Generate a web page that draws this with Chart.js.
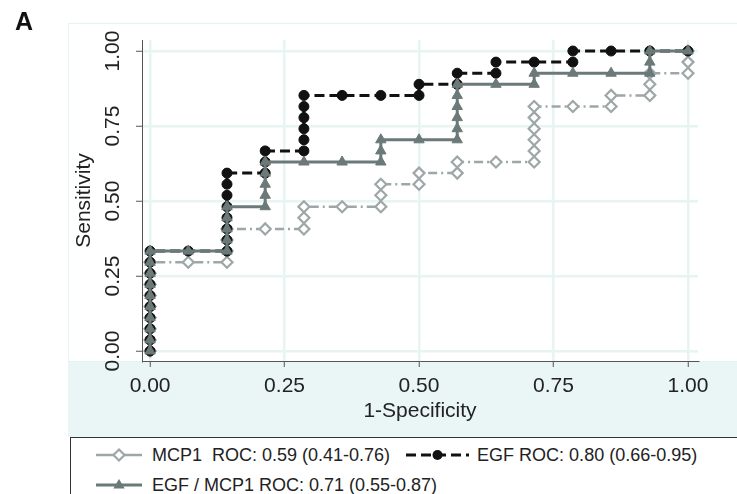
<!DOCTYPE html>
<html>
<head>
<meta charset="utf-8">
<script src="https://cdn.jsdelivr.net/npm/chart.js@4.4.1/dist/chart.umd.min.js"></script>
<style>
  html, body { margin: 0; padding: 0; background: #fff; }
  #wrap { position: relative; width: 737px; height: 494px; overflow: hidden; font-family: "Liberation Sans", Arial, sans-serif; }
  #c { position: absolute; left: 0; top: 0; }
  #panel { position: absolute; left: 15px; top: 9px; font: bold 25px/25px "Liberation Sans", Arial, sans-serif; color: #111; }
  #legend { position: absolute; left: 70px; top: 437px; width: 700px; height: 80px; border: 1px solid #333; background: #fff; box-sizing: border-box; padding-top: 2px; }
  .row { height: 30px; display: flex; align-items: center; white-space: pre; font-size: 18px; color: #222; }
  .item { display: flex; align-items: center; }
  .item svg { display: block; }
</style>
</head>
<body>
<div id="wrap">
  <canvas id="c" width="737" height="494"></canvas>
  <div id="panel">A</div>
  <div id="legend"></div>
</div>
<script>
// ---- data ----
const xTickValues = [0, 0.25, 0.5, 0.75, 1];
const xTickLabels = ['0.00', '0.25', '0.50', '0.75', '1.00'];
const yTickValues = [0, 0.25, 0.5, 0.75, 1];
const yTickLabels = ['0.00', '0.25', '0.50', '0.75', '1.00'];
const xTitle = '1-Specificity';
const yTitle = 'Sensitivity';
const seriesLabels = ['MCP1  ROC: 0.59 (0.41-0.76)', 'EGF ROC: 0.80 (0.66-0.95)', 'EGF / MCP1 ROC: 0.71 (0.55-0.87)'];

const mcp1Fpr = [0, 0, 0, 0, 0, 0, 0, 0, 0, 0.071, 0.143, 0.143, 0.143, 0.143, 0.214, 0.286, 0.286, 0.286, 0.357, 0.429, 0.429, 0.429, 0.5, 0.5, 0.571, 0.571, 0.643, 0.714, 0.714, 0.714, 0.714, 0.714, 0.714, 0.786, 0.857, 0.857, 0.929, 0.929, 0.929, 1, 1, 1];
const mcp1Tpr = [0, 0.037, 0.074, 0.111, 0.148, 0.185, 0.222, 0.259, 0.296, 0.296, 0.296, 0.333, 0.370, 0.407, 0.407, 0.407, 0.444, 0.481, 0.481, 0.481, 0.519, 0.556, 0.556, 0.593, 0.593, 0.630, 0.630, 0.630, 0.667, 0.704, 0.741, 0.778, 0.815, 0.815, 0.815, 0.852, 0.852, 0.889, 0.926, 0.926, 0.963, 1];

const egfFpr = [0, 0, 0, 0, 0, 0, 0, 0, 0, 0, 0.071, 0.143, 0.143, 0.143, 0.143, 0.143, 0.143, 0.143, 0.143, 0.214, 0.214, 0.214, 0.286, 0.286, 0.286, 0.286, 0.286, 0.286, 0.357, 0.429, 0.5, 0.5, 0.571, 0.571, 0.643, 0.643, 0.714, 0.786, 0.786, 0.857, 0.929, 1];
const egfTpr = [0, 0.037, 0.074, 0.111, 0.148, 0.185, 0.222, 0.259, 0.296, 0.333, 0.333, 0.333, 0.370, 0.407, 0.444, 0.481, 0.519, 0.556, 0.593, 0.593, 0.630, 0.667, 0.667, 0.704, 0.741, 0.778, 0.815, 0.852, 0.852, 0.852, 0.852, 0.889, 0.889, 0.926, 0.926, 0.963, 0.963, 0.963, 1, 1, 1, 1];

const ratioFpr = [0, 0, 0, 0, 0, 0, 0, 0, 0, 0, 0.071, 0.143, 0.143, 0.143, 0.143, 0.143, 0.214, 0.214, 0.214, 0.214, 0.214, 0.286, 0.357, 0.429, 0.429, 0.429, 0.5, 0.571, 0.571, 0.571, 0.571, 0.571, 0.571, 0.643, 0.714, 0.714, 0.786, 0.857, 0.929, 0.929, 0.929, 1];
const ratioTpr = [0, 0.037, 0.074, 0.111, 0.148, 0.185, 0.222, 0.259, 0.296, 0.333, 0.333, 0.333, 0.370, 0.407, 0.444, 0.481, 0.481, 0.519, 0.556, 0.593, 0.630, 0.630, 0.630, 0.630, 0.667, 0.704, 0.704, 0.704, 0.741, 0.778, 0.815, 0.852, 0.889, 0.889, 0.889, 0.926, 0.926, 0.926, 0.926, 0.963, 1, 1];

const toPts = (xs, ys) => xs.map((x, i) => ({ x: x, y: ys[i] }));

const FONT = '"Liberation Sans", Arial, sans-serif';
const TXT = '#222';

const bgPlugin = {
  id: 'bg',
  beforeDraw(chart) {
    const ctx = chart.ctx, a = chart.chartArea;
    ctx.save();
    ctx.fillStyle = '#ffffff';
    ctx.fillRect(0, 0, chart.width, chart.height);
    ctx.fillStyle = '#eaf6f5';
    ctx.fillRect(68, a.bottom, chart.width - 68, 437 - a.bottom);
    ctx.strokeStyle = '#e4f2f1';
    ctx.lineWidth = 1;
    ctx.strokeRect(68.5, 23.5, chart.width, a.bottom - 23);
    ctx.restore();
  }
};

const datasets = [
  {
    label: seriesLabels[0],
    data: toPts(mcp1Fpr, mcp1Tpr),
    showLine: true,
    borderColor: '#9ea7a7',
    borderWidth: 2.5,
    borderDash: [9, 4, 2, 4],
    pointStyle: 'rectRot',
    pointRadius: 5.5,
    pointBackgroundColor: '#ffffff',
    pointBorderColor: '#9ea7a7',
    pointBorderWidth: 2.2,
    order: 2
  },
  {
    label: seriesLabels[1],
    data: toPts(egfFpr, egfTpr),
    showLine: true,
    borderColor: '#111111',
    borderWidth: 3,
    borderDash: [10, 5],
    pointStyle: 'circle',
    pointRadius: 5,
    pointBackgroundColor: '#111111',
    pointBorderColor: '#111111',
    pointBorderWidth: 1,
    order: 1
  },
  {
    label: seriesLabels[2],
    data: toPts(ratioFpr, ratioTpr),
    showLine: true,
    borderColor: '#6b7979',
    borderWidth: 3,
    pointStyle: 'triangle',
    pointRadius: 6,
    pointBackgroundColor: '#6b7979',
    pointBorderColor: '#6b7979',
    pointBorderWidth: 1,
    order: 0
  }
];

const chart = new Chart(document.getElementById('c'), {
  type: 'scatter',
  data: { datasets: datasets },
  plugins: [bgPlugin],
  options: {
    responsive: false,
    animation: false,
    devicePixelRatio: 1,
    layout: { padding: { left: 68, top: 40, right: 39, bottom: 57 } },
    plugins: { legend: { display: false }, tooltip: { enabled: false } },
    elements: { line: { tension: 0 } },
    scales: {
      x: {
        type: 'linear',
        min: -0.015,
        max: 1.0186,
        afterBuildTicks: (s) => { s.ticks = xTickValues.map(v => ({ value: v })); },
        afterFit: (s) => { s.height = 76; },
        ticks: {
          callback: (v, i) => xTickLabels[i],
          font: { family: FONT, size: 21 },
          color: TXT,
          padding: 7,
          maxRotation: 0,
          autoSkip: false
        },
        grid: { color: '#e6f4f2', lineWidth: 2.5, tickColor: '#555', tickWidth: 1, tickLength: 6 },
        border: { color: '#555', width: 1 },
        title: { display: true, text: xTitle, font: { family: FONT, size: 21 }, color: TXT, padding: { top: 0, bottom: 13 } }
      },
      y: {
        type: 'linear',
        min: -0.0333,
        max: 1.0367,
        afterBuildTicks: (s) => { s.ticks = yTickValues.map(v => ({ value: v })); },
        afterFit: (s) => { s.width = 74; },
        ticks: {
          callback: (v, i) => yTickLabels[i],
          font: { family: FONT, size: 21 },
          color: TXT,
          padding: 2,
          minRotation: 90,
          maxRotation: 90,
          crossAlign: 'center',
          autoSkip: false
        },
        grid: { color: '#e6f4f2', lineWidth: 2.5, tickColor: '#555', tickWidth: 1, tickLength: 6 },
        border: { color: '#555', width: 1 },
        title: { display: true, text: yTitle, font: { family: FONT, size: 21 }, color: TXT, padding: { top: 4, bottom: 0 } }
      }
    }
  }
});

// ---- HTML legend built from the chart's datasets ----
function symbolSvg(ds, w, solid) {
  const h = 16, mid = h / 2, cx = w / 2;
  const dash = (!solid && ds.borderDash) ? ds.borderDash.join(',') : 'none';
  let marker = '';
  const r = ds.pointRadius;
  if (ds.pointStyle === 'rectRot') {
    marker = `<polygon points="${cx},${mid - r} ${cx + r},${mid} ${cx},${mid + r} ${cx - r},${mid}" fill="${ds.pointBackgroundColor}" stroke="${ds.pointBorderColor}" stroke-width="${ds.pointBorderWidth}"/>`;
  } else if (ds.pointStyle === 'circle') {
    marker = `<circle cx="${cx}" cy="${mid}" r="${r}" fill="${ds.pointBackgroundColor}"/>`;
  } else {
    marker = `<polygon points="${cx},${mid - r} ${cx + r * 0.95},${mid + r * 0.6} ${cx - r * 0.95},${mid + r * 0.6}" fill="${ds.pointBackgroundColor}"/>`;
  }
  return `<svg width="${w}" height="${h}"><line x1="0" y1="${mid}" x2="${w}" y2="${mid}" stroke="${ds.borderColor}" stroke-width="${ds.borderWidth}" stroke-dasharray="${dash}"/>${marker}</svg>`;
}
const lg = document.getElementById('legend');
const ds = chart.data.datasets;
const row1 = document.createElement('div'); row1.className = 'row';
row1.innerHTML =
  `<div class="item" style="margin-left:25px">${symbolSvg(ds[0], 46, true)}<span style="margin-left:10px">${ds[0].label}</span></div>` +
  `<div class="item" style="margin-left:16px">${symbolSvg(ds[1], 63, false)}<span style="margin-left:8px">${ds[1].label}</span></div>`;
const row2 = document.createElement('div'); row2.className = 'row';
row2.innerHTML =
  `<div class="item" style="margin-left:25px">${symbolSvg(ds[2], 46, true)}<span style="margin-left:10px">${ds[2].label}</span></div>`;
lg.appendChild(row1);
lg.appendChild(row2);
</script>
</body>
</html>
